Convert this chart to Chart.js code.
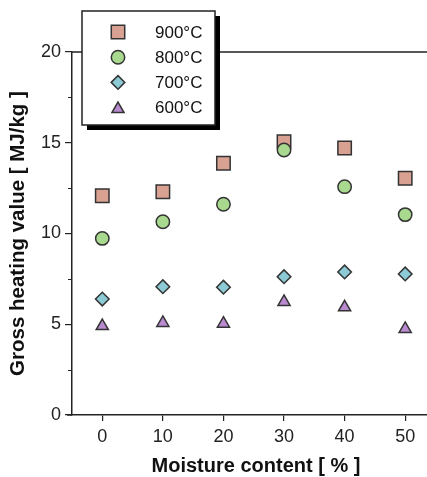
<!DOCTYPE html>
<html>
<head>
<meta charset="utf-8">
<script src="https://cdn.jsdelivr.net/npm/chart.js@4.4.1/dist/chart.umd.min.js"></script>
<style>
html, body { margin: 0; padding: 0; background: #fff; }
</style>
</head>
<body>
<canvas id="gcv" width="427" height="477"></canvas>
<script>
// data
const moisture = [0, 10, 20, 30, 40, 50];
const gcv900 = [12.08, 12.30, 13.87, 15.06, 14.71, 13.04];
const gcv800 = [9.73, 10.65, 11.61, 14.60, 12.58, 11.04];
const gcv700 = [6.39, 7.07, 7.04, 7.62, 7.88, 7.77];
const gcv600 = [4.90, 5.07, 5.03, 6.23, 5.93, 4.74];
const seriesLabels = ['900°C', '800°C', '700°C', '600°C'];
const xTicks = [0, 10, 20, 30, 40, 50];
const yTicks = [0, 5, 10, 15, 20];
const yMinorTicks = [2.5, 7.5, 12.5, 17.5];
const xTitle = 'Moisture content [ % ]';

const FONT = 'Liberation Sans, Arial, sans-serif';
const INK = '#222';

function pts(ys) {
    return moisture.map((x, i) => ({x: x, y: ys[i]}));
}

function mkSet(label, ys, style, fill, radius, order) {
    return {
        label: label,
        data: pts(ys),
        pointStyle: style,
        pointRadius: radius,
        pointHoverRadius: radius,
        pointBackgroundColor: fill,
        pointBorderColor: '#333',
        pointBorderWidth: 1.5,
        showLine: false,
        order: order
    };
}

// extra lines: top frame line, minor ticks, x title and the boxed legend with shadow
const framePlugin = {
    id: 'frame',
    afterDraw(chart) {
        const ctx = chart.ctx;
        const a = chart.chartArea;
        const ys = chart.scales.y;
        ctx.save();
        ctx.strokeStyle = INK;
        ctx.lineWidth = 1.5;
        ctx.beginPath();
        ctx.moveTo(a.left, a.top);
        ctx.lineTo(a.right, a.top);
        ctx.moveTo(a.left - 5, a.bottom);
        ctx.lineTo(a.left, a.bottom);
        ctx.stroke();
        ctx.lineWidth = 1.2;
        ctx.beginPath();
        yMinorTicks.forEach(v => {
            const py = Math.round(ys.getPixelForValue(v)) + 0.5;
            ctx.moveTo(a.left - 4, py);
            ctx.lineTo(a.left, py);
        });
        ctx.stroke();

        // x axis title (sits a bit right of the plot centre in the original)
        ctx.fillStyle = '#111';
        ctx.font = 'bold 20px ' + FONT;
        ctx.textAlign = 'center';
        ctx.textBaseline = 'middle';
        ctx.fillText(xTitle, 256, 466);

        // legend
        const lx = 82, ly = 11, lw = 133, lh = 114;
        ctx.fillStyle = '#000';
        ctx.fillRect(lx + 5, ly + 5, lw, lh);
        ctx.fillStyle = '#fff';
        ctx.fillRect(lx, ly, lw, lh);
        ctx.strokeStyle = INK;
        ctx.lineWidth = 1.5;
        ctx.strokeRect(lx, ly, lw, lh);

        chart.data.datasets.forEach((ds, i) => {
            const cy = 32 + i * 25.2;
            ctx.fillStyle = ds.pointBackgroundColor;
            ctx.strokeStyle = ds.pointBorderColor;
            ctx.lineWidth = ds.pointBorderWidth;
            Chart.helpers.drawPoint(ctx, {
                pointStyle: ds.pointStyle,
                radius: ds.pointRadius,
                rotation: 0,
                borderWidth: ds.pointBorderWidth
            }, 118, ds.pointStyle === 'triangle' ? cy + 1.5 : cy);
            ctx.fillStyle = '#111';
            ctx.font = '17px ' + FONT;
            ctx.textAlign = 'left';
            ctx.textBaseline = 'middle';
            ctx.fillText(ds.label, 155, cy + 1);
        });
        ctx.restore();
    }
};

new Chart(document.getElementById('gcv'), {
    type: 'scatter',
    data: {
        datasets: [
            mkSet(seriesLabels[0], gcv900, 'rect', '#d9a192', 9.5, 4),
            mkSet(seriesLabels[1], gcv800, 'circle', '#a9d98f', 6.7, 3),
            mkSet(seriesLabels[2], gcv700, 'rectRot', '#8ccbd6', 6.8, 2),
            mkSet(seriesLabels[3], gcv600, 'triangle', '#b98ad0', 7, 1)
        ]
    },
    options: {
        responsive: false,
        animation: false,
        layout: {autoPadding: false, padding: {top: 52, left: 0, right: 0, bottom: 0}},
        plugins: {
            legend: {display: false},
            tooltip: {enabled: false}
        },
        scales: {
            x: {
                type: 'linear',
                min: -5,
                max: 53.6,
                afterBuildTicks: s => { s.ticks = xTicks.map(v => ({value: v})); },
                afterFit: s => { s.height = 62; s.paddingLeft = 0; s.paddingRight = 0; },
                grid: {drawOnChartArea: false, drawTicks: true, tickLength: 6, color: INK, lineWidth: 1.2},
                border: {display: true, color: INK, width: 1.5},
                ticks: {font: {family: FONT, size: 18}, color: INK, padding: 5}
            },
            y: {
                min: 0,
                max: 20,
                afterBuildTicks: s => { s.ticks = yTicks.map(v => ({value: v})); },
                afterFit: s => { s.width = 72; },
                grid: {drawOnChartArea: false, drawTicks: true, tickLength: 7, color: INK, lineWidth: 1.2},
                border: {display: true, color: INK, width: 1.5},
                ticks: {font: {family: FONT, size: 18}, color: INK, padding: 4},
                title: {
                    display: true,
                    text: 'Gross heating value [ MJ/kg ]',
                    font: {family: FONT, size: 20.5, weight: 'bold'},
                    color: '#111',
                    padding: {top: 6, bottom: 0}
                }
            }
        }
    },
    plugins: [framePlugin]
});
</script>
</body>
</html>
